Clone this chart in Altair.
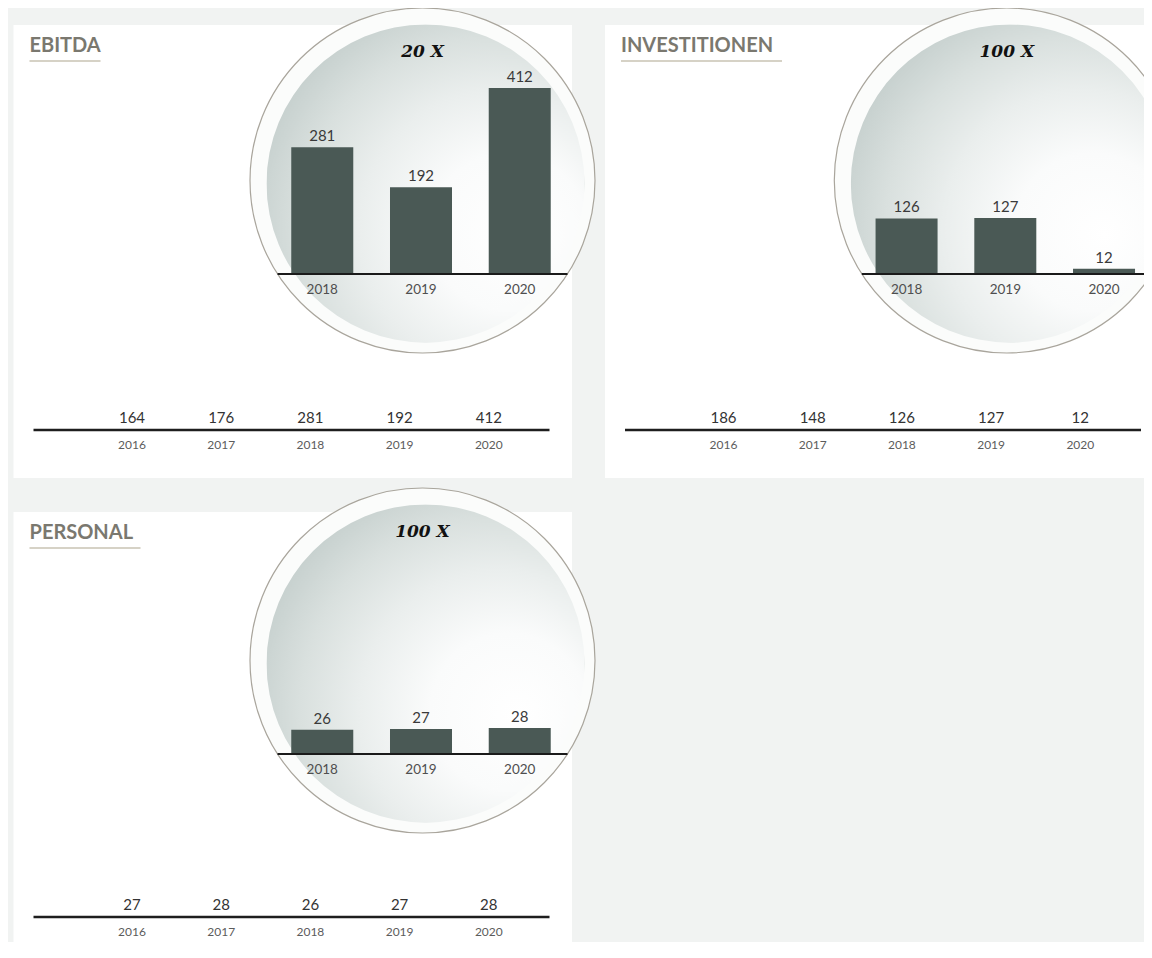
import altair as alt
import pandas as pd

# ---------------- data ----------------
years = ["2016", "2017", "2018", "2019", "2020"]
zoom_years = ["2018", "2019", "2020"]
ebitda = [164, 176, 281, 192, 412]
investitionen = [186, 148, 126, 127, 12]
personal = [27, 28, 26, 27, 28]
titles = ["EBITDA", "INVESTITIONEN", "PERSONAL"]
zoom_labels = ["20 X", "100 X", "100 X"]
series = [ebitda, investitionen, personal]

# ---------------- layout (page pixels) ----------------
OX, OY = 8, 8
def px(x):
    return x - OX
def py(y):
    return y - OY

cards = [(13.5, 25, 572, 478), (605, 25, 1160, 478), (13.5, 512, 572, 966)]
centers = [(422.5, 180.5), (1006.8, 180.5), (422.5, 660.5)]
title_w = [71, 161, 111]
inner_h = [186, 56, 26]  # pixel height of the largest zoomed bar

BG = "#f1f3f2"
BAR = "#4a5955"
one = pd.DataFrame({"k": [0]})

radial = alt.RadialGradient(
    gradient="radial",
    x1=0.8, y1=0.66, r1=0.0,
    x2=0.66, y2=0.63, r2=0.88,
    stops=[
        alt.GradientStop(offset=0.0, color="#ffffff"),
        alt.GradientStop(offset=0.28, color="#fafbfb"),
        alt.GradientStop(offset=0.5, color="#eaeeed"),
        alt.GradientStop(offset=0.68, color="#d9e0de"),
        alt.GradientStop(offset=0.85, color="#c5cfcd"),
        alt.GradientStop(offset=1.0, color="#b1bebb"),
    ],
)

layers = []

# cards
for (x0, y0, x1, y1) in cards:
    layers.append(
        alt.Chart(one).mark_rect(color="white").encode(
            x=alt.value(px(x0)), x2=alt.value(px(x1)),
            y=alt.value(py(y0)), y2=alt.value(py(y1)),
        )
    )

for i in range(3):
    x0, y0, x1, y1 = cards[i]
    cx, cy = centers[i]
    vals = series[i]

    # title + underline
    layers.append(
        alt.Chart(pd.DataFrame({"t": [titles[i]]})).mark_text(
            align="left", baseline="middle", font="Lato", fontWeight="bold",
            fontSize=20, color="#7a786f",
        ).encode(x=alt.value(px(x0 + 16)), y=alt.value(py(y0 + 21)), text="t:N")
    )
    layers.append(
        alt.Chart(one).mark_rule(color="#d6d2c6", strokeWidth=2).encode(
            x=alt.value(px(x0 + 16)), x2=alt.value(px(x0 + 16 + title_w[i])),
            y=alt.value(py(y0 + 36)),
        )
    )

    # bottom strip
    bottom = pd.DataFrame({"year": years, "value": vals})
    bx = alt.X(
        "year:N",
        scale=alt.Scale(domain=years, range=[px(x0 + 73.9), px(x0 + 519.9)],
                        paddingInner=0, paddingOuter=0),
        axis=None,
    )
    layers.append(
        alt.Chart(one).mark_rule(color="#1e1e1e", strokeWidth=2.6).encode(
            x=alt.value(px(x0 + 20)), x2=alt.value(px(x0 + 536)),
            y=alt.value(py(y0 + 405)),
        )
    )
    layers.append(
        alt.Chart(bottom).mark_text(
            font="Lato", fontSize=15, color="#333333", baseline="middle"
        ).encode(x=bx, y=alt.value(py(y0 + 393)), text="value:Q")
    )
    layers.append(
        alt.Chart(bottom).mark_text(
            font="Lato", fontSize=12, color="#5c5c5c", baseline="middle"
        ).encode(x=bx, y=alt.value(py(y0 + 420)), text="year:N")
    )

    # magnifier circle
    layers.append(
        alt.Chart(one).mark_point(
            shape="circle", filled=True, fill="#fbfcfb", stroke="#a9a59c",
            strokeWidth=1.2, opacity=1, size=345 ** 2,
        ).encode(x=alt.value(px(cx)), y=alt.value(py(cy)))
    )
    layers.append(
        alt.Chart(one).mark_point(
            shape="circle", filled=True, fill=radial, strokeWidth=0,
            opacity=1, size=318 ** 2,
        ).encode(x=alt.value(px(cx + 3)), y=alt.value(py(cy + 3)))
    )

    # zoomed bars
    inner = pd.DataFrame({"year": zoom_years, "value": vals[2:]})
    base = cy + 93.5
    ix = alt.X(
        "year:N",
        scale=alt.Scale(domain=zoom_years, range=[px(cx - 149.6), px(cx + 146.6)],
                        paddingInner=0.372, paddingOuter=0.186),
        axis=None,
    )
    iy = alt.Y(
        "value:Q",
        scale=alt.Scale(domain=[0, max(vals[2:])], range=[py(base), py(base - inner_h[i])],
                        nice=False, zero=True),
        axis=None,
    )
    layers.append(alt.Chart(inner).mark_bar(color=BAR).encode(x=ix, y=iy))
    layers.append(
        alt.Chart(inner).mark_text(
            font="Lato", fontSize=15, color="#3a3a3a", baseline="middle", dy=-11
        ).encode(x=ix, y=iy, text="value:Q")
    )
    layers.append(
        alt.Chart(one).mark_rule(color="#1a1a1a", strokeWidth=2).encode(
            x=alt.value(px(cx - 145)), x2=alt.value(px(cx + 145)),
            y=alt.value(py(base)),
        )
    )
    layers.append(
        alt.Chart(inner).mark_text(
            font="Lato", fontSize=13.5, color="#4f4f4f", baseline="middle"
        ).encode(x=ix, y=alt.value(py(cy + 109.5)), text="year:N")
    )
    layers.append(
        alt.Chart(pd.DataFrame({"t": [zoom_labels[i]]})).mark_text(
            font="DejaVu Serif", fontStyle="italic", fontWeight="bold",
            fontSize=17, color="#111111", baseline="middle",
        ).encode(x=alt.value(px(cx)), y=alt.value(py(cy - 128.5)), text="t:N")
    )

chart = (
    alt.layer(*layers)
    .resolve_scale(x="independent", y="independent")
    .properties(
        width=1136, height=934,
        autosize=alt.AutoSizeParams(type="none"),
        padding=0, background=BG,
    )
    .configure_view(strokeWidth=0)
)

chart.save("out.html", embed_options={"renderer": "svg", "actions": False})
